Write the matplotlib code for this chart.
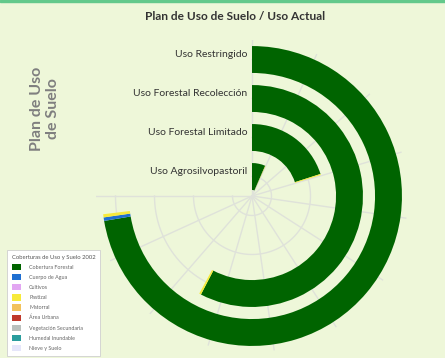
import matplotlib
matplotlib.use('Agg')
import matplotlib.pyplot as plt
import numpy as np
from matplotlib.patches import Patch

plt.rcParams['font.family'] = ['Lato', 'DejaVu Sans']

# radial categories, inner to outer
categories = ['Uso Agrosilvopastoril', 'Uso Forestal Limitado',
              'Uso Forestal Recolección', 'Uso Restringido']

# stacked cover types (one value per category, same order)
cover_names = ['Cobertura Forestal', 'Cuerpo de Agua', 'Cultivos', 'Pastizal',
               'Matorral', 'Área Urbana', 'Vegetación Secundaria',
               'Humedal Inundable', 'Nieve y Suelo']
cover_colors = ['#006400', '#1f6fd1', '#e2a6f2', '#f7ea3a', '#f2c25c',
                '#c0392b', '#b9c0bd', '#2a9d9d', '#e6e6fa']
forestal = [9.6, 29.4, 84.5, 106.1]
agua = [0.0, 0.0, 0.0, 0.55]
cultivos = [0.0, 0.0, 0.0, 0.0]
pastizal = [0.3, 0.35, 0.4, 0.5]
matorral = [0.0, 0.0, 0.0, 0.0]
urbana = [0.0, 0.0, 0.0, 0.0]
secundaria = [0.0, 0.0, 0.0, 0.0]
humedal = [0.0, 0.0, 0.0, 0.0]
nieve = [0.0, 0.0, 0.0, 0.0]
series = [forestal, agua, cultivos, pastizal, matorral, urbana,
          secundaria, humedal, nieve]

angle_max = 110
angle_ticks = np.arange(0, 111, 10)
span_deg = 270

bg = '#eef7d9'
grid_c = '#dfe2da'

fig = plt.figure(figsize=(4.45, 3.58), dpi=100, facecolor=bg)
W, H = 445, 358
cx, cy, R = 252, 358 - 196, 156
ax = fig.add_axes([(cx - R) / W, (cy - R) / H, 2 * R / W, 2 * R / H],
                  projection='polar')
ax.set_facecolor('none')
ax.set_theta_zero_location('N')
ax.set_theta_direction(-1)

def to_rad(v):
    return np.deg2rad(np.asarray(v, dtype=float) * span_deg / angle_max)

pos = np.arange(len(categories)) + 0.5
bar_h = 0.69

# grid
for t in angle_ticks:
    ax.plot([to_rad(t), to_rad(t)], [0, 4], color=grid_c, lw=1.0, zorder=0)
arc = np.linspace(0, to_rad(angle_max), 300)
for p in pos:
    ax.plot(arc, np.full_like(arc, p), color=grid_c, lw=1.0, zorder=0)

left = np.zeros(len(categories))
for name, col, vals in zip(cover_names, cover_colors, series):
    vals = np.asarray(vals)
    ax.bar(to_rad(left), bar_h, width=to_rad(vals), bottom=pos - bar_h / 2,
           align='edge', color=col, linewidth=0, zorder=2, label=name)
    left = left + vals

ax.set_ylim(0, 4)
ax.grid(False)
ax.set_xticks([])
ax.set_yticks([])
ax.spines['polar'].set_visible(False)

for p, lab in zip(pos, categories):
    ax.annotate(lab, xy=(0, p), xytext=(-5, 5), textcoords='offset pixels',
                ha='right', va='center', fontsize=7.5, color='#333333')

fig.patches.append(plt.Rectangle((0, 1 - 2 / H), 1, 2 / H,
                                 transform=fig.transFigure, color='#63c98b'))
fig.text(235 / W, 1 - 16 / H, 'Plan de Uso de Suelo / Uso Actual',
         ha='center', va='center', fontsize=8.6, fontweight='bold', color='#333333')
fig.text(45 / W, 1 - 109 / H, 'Plan de Uso\nde Suelo', rotation=90,
         ha='center', va='center', fontsize=11.5, fontweight='bold',
         color='#7f7f7f', linespacing=1.15)

handles = [Patch(facecolor=c, edgecolor='none') for c in cover_colors]
leg = fig.legend(handles, cover_names, title='Coberturas de Uso y Suelo 2002',
                 loc='upper left', bbox_to_anchor=(7 / W, 1 - 250 / H),
                 fontsize=3.9, title_fontsize=4.2, frameon=True, fancybox=False,
                 edgecolor='#cfcfcf', facecolor='white', framealpha=1,
                 handlelength=1.7, handleheight=1.4, labelspacing=0.72,
                 borderpad=0.9, handletextpad=1.5, alignment='left',
                 borderaxespad=0)
for txt in leg.get_texts():
    txt.set_color('#666666')
leg.get_title().set_color('#555555')
leg.get_frame().set_linewidth(0.6)

fig.savefig('out.png', dpi=100, facecolor=bg)
